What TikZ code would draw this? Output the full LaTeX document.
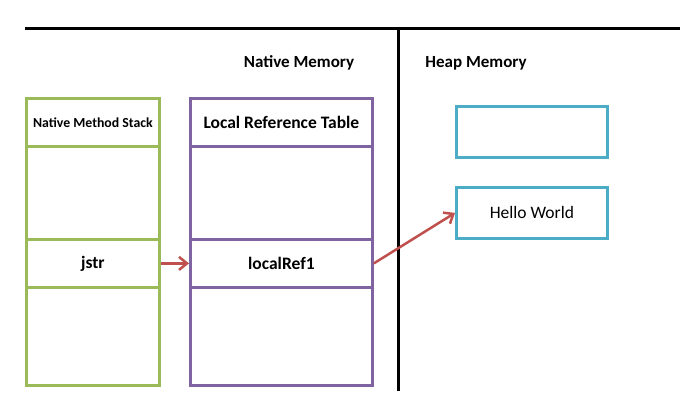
\documentclass[tikz,border=0pt]{standalone}
\usepackage{fontspec}
\setmainfont{Carlito}
\usetikzlibrary{arrows.meta}
\definecolor{cgreen}{HTML}{9BBB59}
\definecolor{cpurple}{HTML}{8064A2}
\definecolor{cteal}{HTML}{4BACC6}
\definecolor{cred}{HTML}{C0504D}
\begin{document}
\begin{tikzpicture}[x=1pt,y=-1pt,
  cell/.style={draw, line width=2.8pt, anchor=north west, inner sep=0pt, font=\bfseries\fontsize{17.5}{20}\selectfont},
  gcell/.style={cell, draw=cgreen, minimum width=133pt},
  pcell/.style={cell, draw=cpurple, minimum width=182pt},
  hbox/.style={draw=cteal, line width=2.8pt, anchor=north west, inner sep=0pt, minimum width=151pt, minimum height=51pt, font=\fontsize{17.5}{20}\selectfont},
  title/.style={font=\bfseries\fontsize{17}{20}\selectfont, inner sep=0pt},
  arr/.style={draw=cred, line width=2.5pt, -{Straight Barb[length=8pt,width=13pt]}}]
\useasboundingbox (0,0) rectangle (692,409);
\fill[white] (0,0) rectangle (692,409);
% divider lines
\coordinate (tl) at (25,29);
\coordinate (tr) at (680,29);
\coordinate (vt) at (398,29);
\coordinate (vb) at (398,391);
\draw[line width=3pt] (tl) -- (tr);
\draw[line width=3pt] (vt) -- (vb);
% titles
\node[title] (nm) at (299,63) {Native Memory};
\node[title] (hm) at (476,63) {Heap Memory};
% native method stack
\node[gcell, minimum height=48pt, font=\bfseries\fontsize{13.8}{16}\selectfont] (g1) at (25,97) {Native Method Stack};
\node[gcell, minimum height=93pt] (g2) at (25,145) {};
\node[gcell, minimum height=48pt] (jstr) at (25,238) {jstr};
\node[gcell, minimum height=98pt] (g4) at (25,286) {};
% local reference table
\node[pcell, minimum height=48pt] (p1) at (189,97) {Local Reference Table};
\node[pcell, minimum height=93pt] (p2) at (189,145) {};
\node[pcell, minimum height=48pt] (ref) at (189,238) {localRef1};
\node[pcell, minimum height=98pt] (p4) at (189,286) {};
% heap
\node[hbox] (h1) at (455,105) {};
\node[hbox] (hello) at (455,186) {Hello World};
% arrows
\draw[arr] (jstr.east) -- (ref.west);
\draw[arr] (ref.east) -- (hello.west);
\end{tikzpicture}
\end{document}
